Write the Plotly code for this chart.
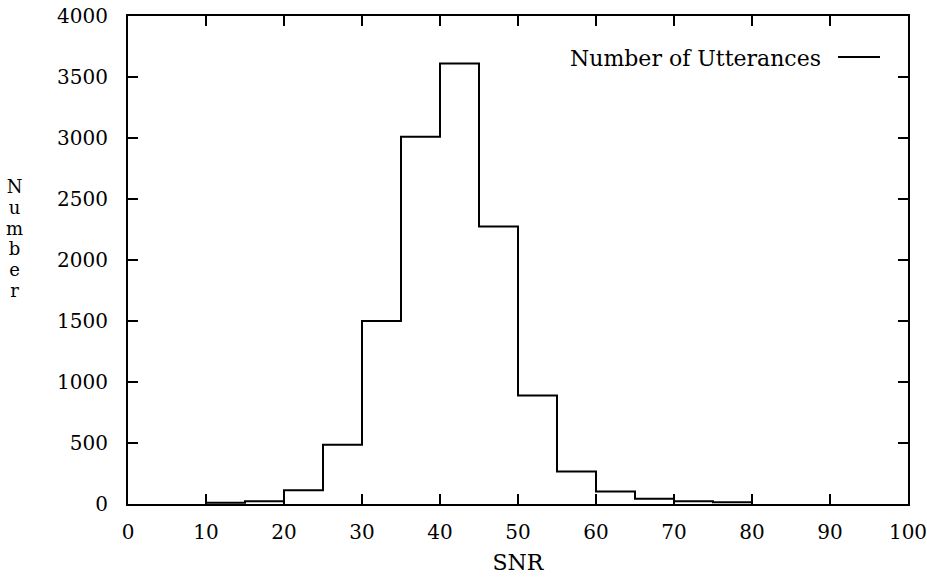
import plotly.graph_objects as go

# Histogram bin left edges (SNR) and counts (Number of Utterances)
bin_edges = [10, 15, 20, 25, 30, 35, 40, 45, 50, 55, 60, 65, 70, 75, 80]
counts = [10, 22, 112, 485, 1500, 3010, 3610, 2275, 890, 266, 102, 43, 23, 15]

x_ticks = [0, 10, 20, 30, 40, 50, 60, 70, 80, 90, 100]
y_ticks = [0, 500, 1000, 1500, 2000, 2500, 3000, 3500, 4000]

series_name = "Number of Utterances"
x_title = "SNR"
y_title = "Number"

# step outline: start from zero at first edge, drop back to zero at last edge
xs = [bin_edges[0]] + bin_edges[:-1] + [bin_edges[-1], bin_edges[-1]]
ys = [0] + counts + [counts[-1], 0]

FONT = "DejaVu Serif"

fig = go.Figure()
fig.add_trace(go.Scatter(
    x=xs, y=ys, mode="lines", line=dict(shape="hv", color="black", width=2),
    name=series_name, showlegend=False,
))

L, R, T, B = 128, 19, 16, 74
W, H = 927, 578
pw, ph = W - L - R, H - T - B

def px_x(p):
    return (p - L) / pw

def px_y(p):
    return (H - B - p) / ph

axis_common = dict(
    showline=True, linecolor="black", linewidth=2, mirror="ticks",
    ticks="inside", ticklen=10, tickwidth=2, tickcolor="black",
    showgrid=False, zeroline=False, automargin=False,
    ticklabeloverflow="allow",
    tickfont=dict(family=FONT, size=20, color="black"),
)

fig.update_layout(
    width=W, height=H,
    margin=dict(l=L, r=R, t=T, b=B, autoexpand=False),
    paper_bgcolor="white", plot_bgcolor="white",
    font=dict(family=FONT, color="black"),
    xaxis=dict(range=[0, 100], tickvals=x_ticks, ticktext=[str(v) for v in x_ticks],
               ticklabelstandoff=9,
               title=dict(text=x_title, font=dict(family=FONT, size=22, color="black"), standoff=12),
               **axis_common),
    yaxis=dict(range=[0, 4000], tickvals=y_ticks, ticktext=[str(v) for v in y_ticks],
               ticklabelstandoff=14, **axis_common),
    showlegend=False,
)

# legend (text then line sample, as in reference)
fig.add_annotation(x=px_x(823), y=px_y(58), xref="paper", yref="paper",
                   text=series_name, showarrow=False, xanchor="right", yanchor="middle",
                   font=dict(family=FONT, size=22, color="black"))
fig.add_shape(type="line", xref="paper", yref="paper",
              x0=px_x(838), x1=px_x(880), y0=px_y(57), y1=px_y(57),
              line=dict(color="black", width=2))

# vertically stacked y-axis title (one text, tight line spacing)
stack = "<br>".join(f'<span style="font-size:18px">{ch}</span>' for ch in y_title)
fig.add_annotation(x=px_x(15), y=px_y(238), xref="paper", yref="paper",
                   text=stack, showarrow=False, xanchor="center", yanchor="middle",
                   font=dict(family=FONT, size=16, color="black"))

fig.write_html("out.html")
